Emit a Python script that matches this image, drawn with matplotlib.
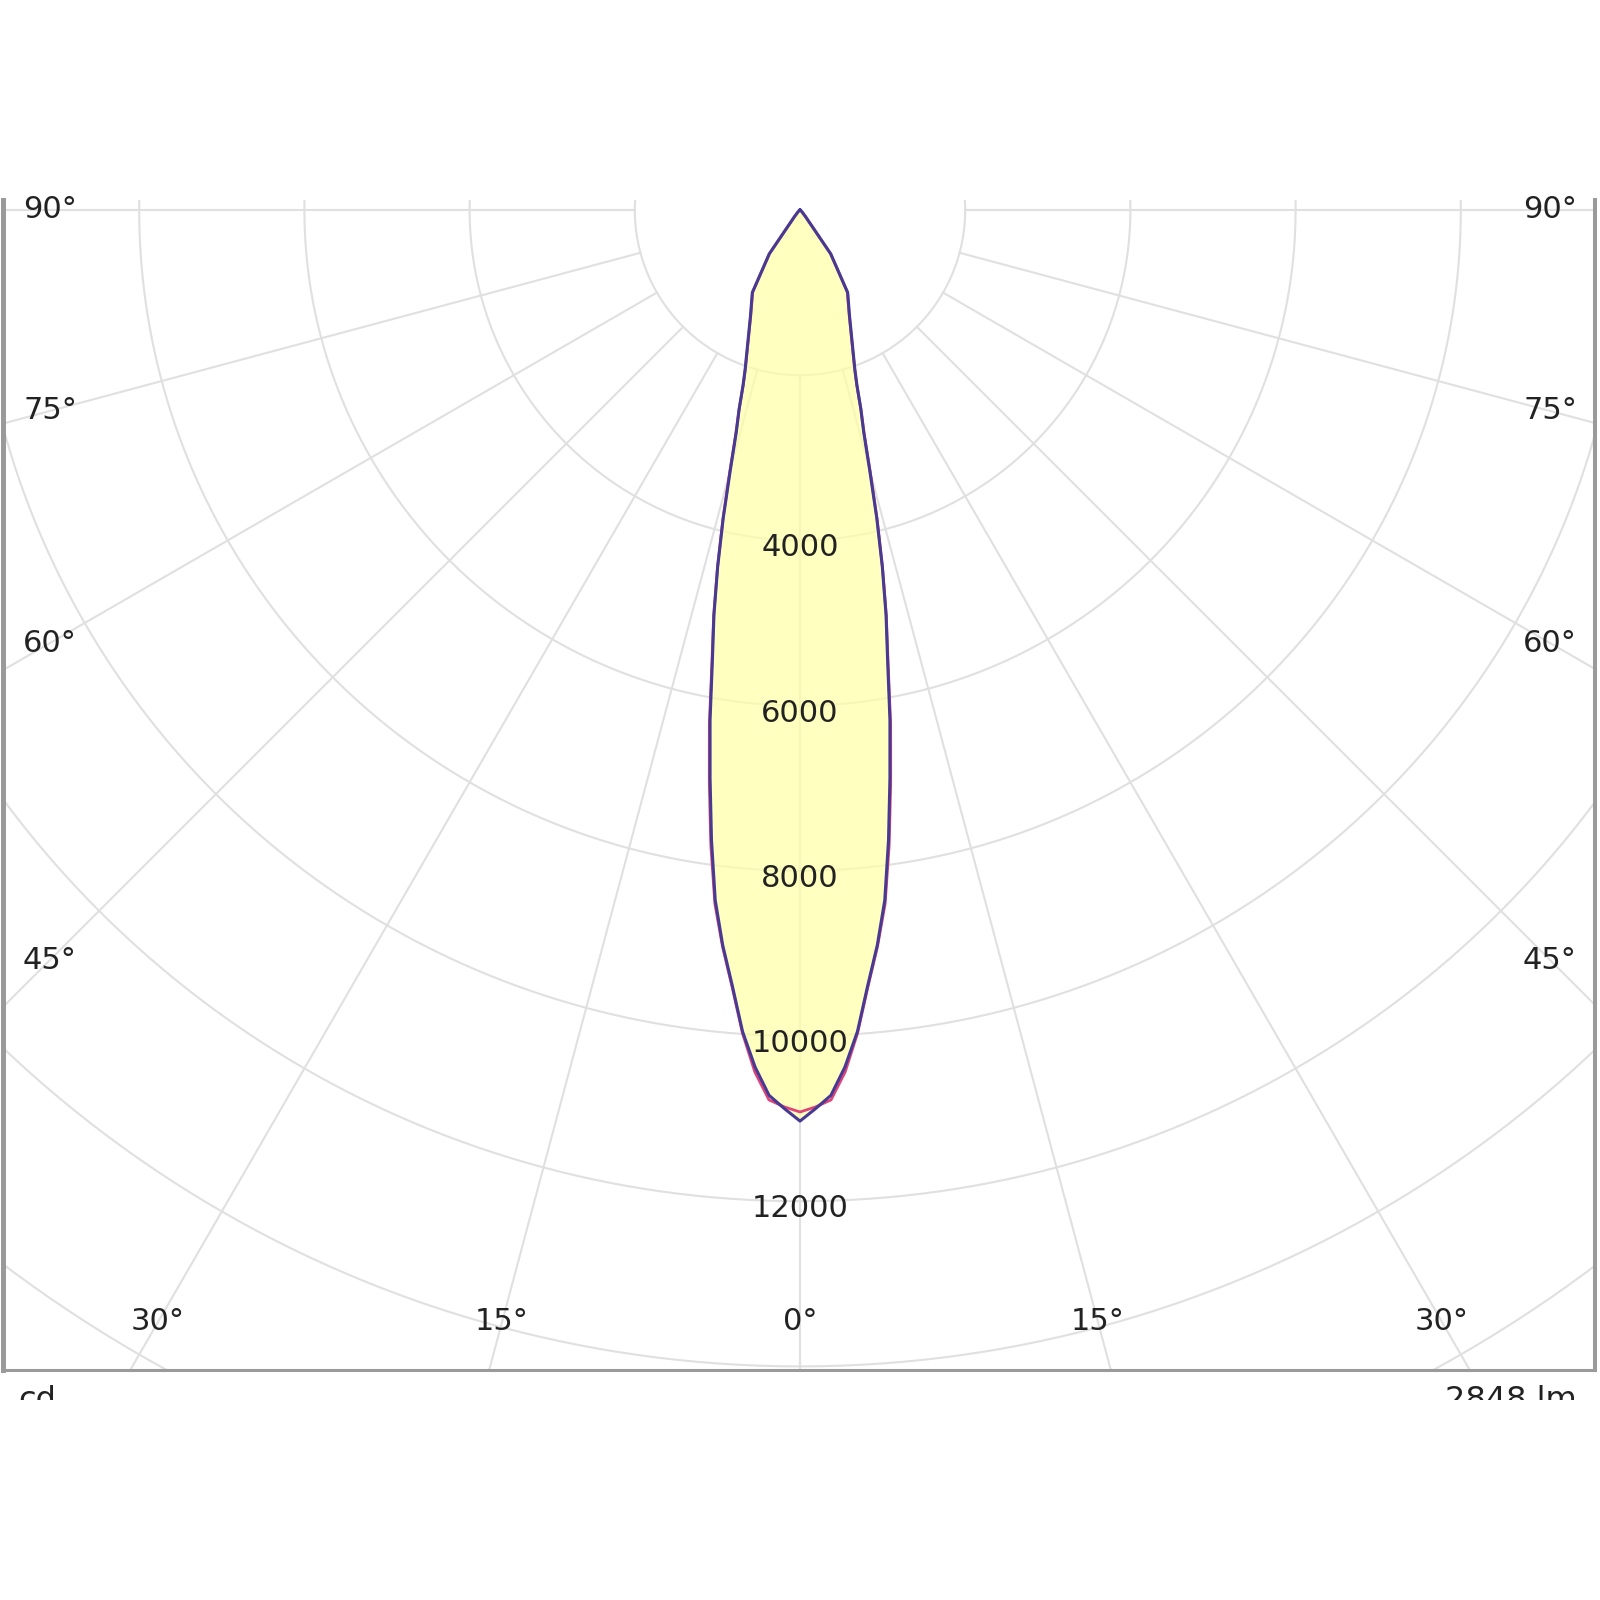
import numpy as np
import matplotlib.pyplot as plt
from matplotlib.patches import Rectangle

# luminous intensity distribution, gamma angle (deg) -> cd
gamma = [0, 1, 2, 3, 4, 5, 6, 7, 8, 9, 10, 11, 12, 13, 14, 15, 16, 17, 18, 19, 20,
         25, 30, 35, 40, 45, 50, 60, 70, 80, 90]
cd_c0 = [11030, 10880, 10725, 10390, 9970, 9420, 8950, 8420, 7700, 6960, 6270, 5560, 5010, 4430, 3840,
         3260, 2800, 2520, 2230, 2040, 1900, 1420, 1155, 650, 100, 40, 20, 10, 5, 0, 0]
cd_c90 = [10920, 10860, 10780, 10450, 9990, 9440, 8970, 8460, 7760, 7020, 6320, 5590, 5030, 4440, 3860,
          3290, 2820, 2520, 2220, 2030, 1890, 1410, 1145, 640, 100, 40, 20, 10, 5, 0, 0]

rings = [2000, 4000, 6000, 8000, 10000, 12000, 14000, 16000, 18000, 20000]
ring_labels = [4000, 6000, 8000, 10000, 12000]
spokes = [-90, -75, -60, -45, -30, -15, 0, 15, 30, 45, 60, 75, 90]
side_ticks = [90, 75, 60, 45]
bottom_ticks = [30, 15, 0]
unit_text = 'cd'
flux_text = '2848 lm'

# layout in pixels (figure 1600x1600)
W = H = 1600
cx, cy = 800, 210          # pole of the diagram
s = 0.0826                 # px per cd
box_l, box_r, box_t, box_b = 3, 1595, 200, 1370

plt.rcParams['font.family'] = 'DejaVu Sans'
fig = plt.figure(figsize=(16, 16), dpi=100)
fig.patch.set_facecolor('white')
ax = fig.add_axes([box_l / W, 1 - box_b / H, (box_r - box_l) / W, (box_b - box_t) / H])
ax.set_xlim((box_l - cx) / s, (box_r - cx) / s)
ax.set_ylim(-(box_b - cy) / s, (cy - box_t) / s)
ax.set_xticks([])
ax.set_yticks([])
ax.spines['top'].set_visible(False)
for side, lw in [('left', 3.6), ('right', 2.9), ('bottom', 2.2)]:
    ax.spines[side].set_color('#9a9a9a')
    ax.spines[side].set_linewidth(lw)

gridc = '#e0e0e0'
t = np.linspace(0, 2 * np.pi, 721)
for r in rings:
    ax.plot(r * np.cos(t), r * np.sin(t), color=gridc, lw=1.5, zorder=1)
for a in spokes:
    th = np.radians(a)
    ax.plot([2000 * np.sin(th), 40000 * np.sin(th)], [-2000 * np.cos(th), -40000 * np.cos(th)],
            color=gridc, lw=1.5, zorder=1)


def curve(vals):
    g = np.radians(np.concatenate([-np.array(gamma[::-1]), np.array(gamma[1:])]))
    i = np.concatenate([np.array(vals[::-1]), np.array(vals[1:])])
    return i * np.sin(g), -i * np.cos(g)


x0, y0 = curve(cd_c0)
x90, y90 = curve(cd_c90)
ax.fill(x0, y0, color='#ffffa8', alpha=0.72, lw=0, zorder=2)
ax.plot(x90, y90, color='#e0457a', lw=2.0, zorder=3)
ax.plot(x0, y0, color='#463a92', lw=2.2, zorder=4)

txtc = '#222222'
fs = 22
for r in ring_labels:
    ax.text(0, -(r + 90), str(r), ha='center', va='center', fontsize=fs, color=txtc, zorder=5)

side_x = 750 / s
for a in side_ticks:
    y = -side_x / np.tan(np.radians(a)) if a < 90 else 0
    ax.text(-side_x, y, f'{a}°', ha='center', va='center', fontsize=fs, color=txtc, zorder=5)
    ax.text(side_x, y, f'{a}°', ha='center', va='center', fontsize=fs, color=txtc, zorder=5)

bot_y = (1322 - cy) / s
for a in bottom_ticks:
    x = bot_y * np.tan(np.radians(a))
    ax.text(-x, -bot_y, f'{a}°', ha='center', va='center', fontsize=fs, color=txtc, zorder=5)
    if a:
        ax.text(x, -bot_y, f'{a}°', ha='center', va='center', fontsize=fs, color=txtc, zorder=5)

fig.text(18 / W, 1 - 1385 / H, unit_text, ha='left', va='top', fontsize=fs + 1, color=txtc)
fig.text(1577 / W, 1 - 1385 / H, flux_text, ha='right', va='top', fontsize=fs + 1, color=txtc)
# the source image is cropped just under the labels
fig.add_artist(Rectangle((0, 0), 1, 1 - 1400 / H, transform=fig.transFigure,
                         facecolor='white', edgecolor='none', zorder=10))

fig.savefig('out.png', dpi=100)
